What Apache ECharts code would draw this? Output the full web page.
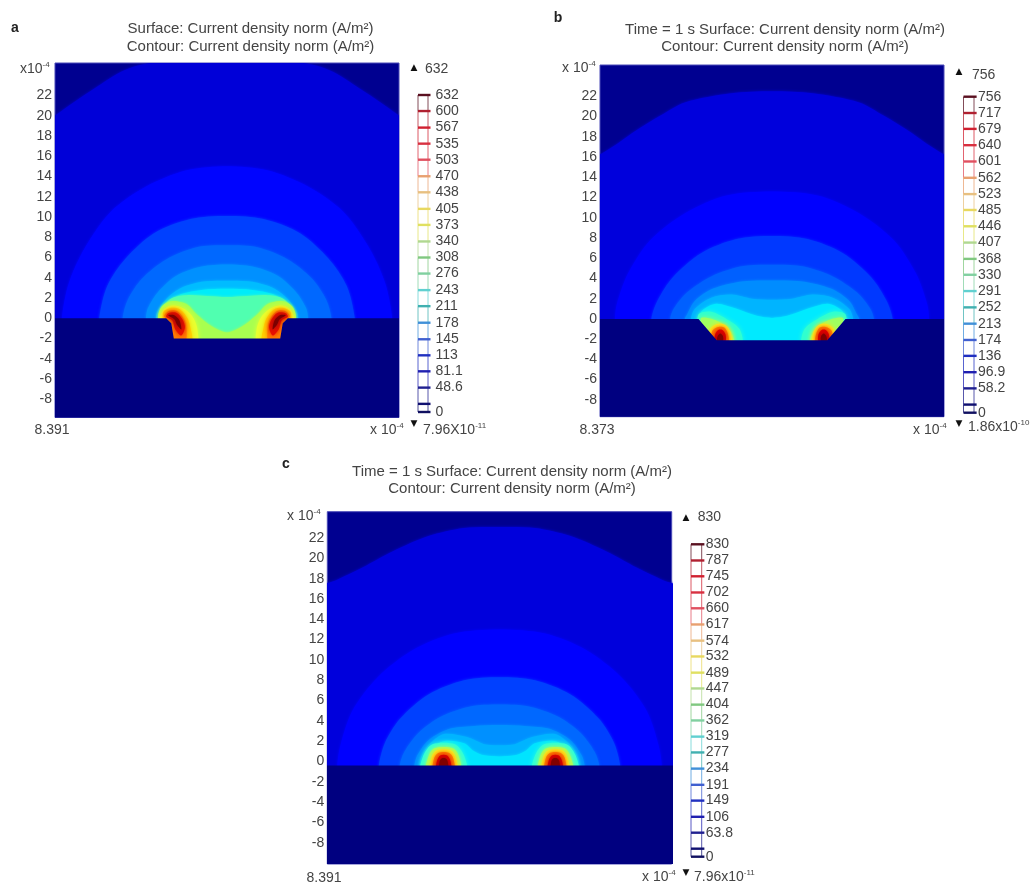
<!DOCTYPE html>
<html><head><meta charset="utf-8">
<style>html,body{margin:0;padding:0;background:#fff}#c{width:1032px;height:885px;filter:blur(0.5px)}</style>
<script src="https://cdn.jsdelivr.net/npm/echarts@6/dist/echarts.min.js"></script>
</head><body><div id="c"></div>
<script>
const yTicks = [22,20,18,16,14,12,10,8,6,4,2,0,-2,-4,-6,-8];

const levelsA = [632,600,567,535,503,470,438,405,373,340,308,276,243,211,178,145,113,81.1,48.6,16.2,0];
const levelsB = [756,717,679,640,601,562,523,485,446,407,368,330,291,252,213,174,136,96.9,58.2,19.4,0];
const levelsC = [830,787,745,702,660,617,574,532,489,447,404,362,319,277,234,191,149,106,63.8,21.3,0];
const levelColors = ['#5a1020','#b02030','#d02030','#d83040','#e05060','#e8a070','#e8c080','#e8d860','#e0e060','#b0d890','#80c880','#80d0a0','#60d0d0','#40b0b0','#4090d8','#4060d0','#2030c0','#2020b0','#202090','#101070','#101060'];

// half contour outlines (right side, top centre downward), x and y in 10^-4 axis units
const arcsA = [
  [[0,25.9],[4,25.7],[8.6,25],[10.5,24.3],[13.5,22.4],[16,20.7],[17.5,19.6],[19,18.5]],
  [[0,15],[4,14.6],[8,13],[11.5,10.5],[14,7],[15.6,3.5],[16.3,0]],
  [[0,10.1],[3.6,9.8],[7.2,8.4],[10,5.9],[11.8,3.2],[12.6,0]],
  [[0,7.2],[3,7],[6,5.8],[8.4,3.9],[9.8,1.8],[10.3,0]],
  [[0,5.3],[2.5,5.1],[5,4.2],[6.8,2.6],[7.8,1],[8,0]],
  [[0,3.7],[2.5,3.6],[4.5,3],[6,1.9],[6.9,0.6],[7,0]],
  [[0,2.9],[2.5,2.8],[4.5,2.4],[5.8,1.6],[6.5,0.5],[6.6,0]],
  [[0,2.1],[2,2.2],[3.8,2.3],[5.4,2],[6.4,1],[6.5,0]],
  [[0,-1.4],[1.5,-0.8],[3,0.4],[4,1.4],[5.4,1.7],[6.4,1.2],[6.8,0.2],[6.6,-2.5]]
];
const arcColorsA = ['#0000d8','#0004ff','#0040ff','#0068ff','#0090ff','#00bcff','#00ecfa','#50ffb0','#a8ff50'];
const lobesA = [
  [[3,-2.5],[2.9,-1.2],[3.3,0],[4.2,0.9],[5.3,1.25],[6.2,0.9],[6.6,0],[6.2,-2.5]],
  [[3.5,-2.3],[3.6,-1],[3.9,0],[4.7,0.9],[5.6,1],[6.3,0.5],[6,-2.3]],
  [[4.1,-2.2],[4,-1.2],[4.2,-0.2],[4.9,0.7],[5.7,0.75],[6.2,0.2],[5.6,-0.4],[5.4,-2.2]],
  [[4.5,-1.7],[4.15,-0.9],[4.4,-0.1],[5,0.55],[5.8,0.5],[6,0.15],[5.4,-0.2],[5.1,-1.1]],
  [[4.5,-1.1],[4.7,-0.2],[5.2,0.3],[5.8,0.3],[5.2,-0.1],[4.9,-0.7]]
];
const lobeColorsA = ['#e8ff30','#ffd000','#ff8000','#e81000','#7c0000'];
const floorA = [[19,0],[6,0],[5.5,-0.5],[5.25,-2]];

const arcsB = [
  [[0,22.5],[4,22.3],[8.6,21.4],[11,20.1],[13.3,18.7],[15.3,17.3],[17.2,16.1],[19,15]],
  [[0,12.6],[4.5,12.2],[8.5,10.5],[12,7.8],[14.2,4.5],[15.3,1.5],[15.5,0]],
  [[0,8.2],[3.5,7.9],[7,6.5],[9.8,4.1],[11.3,1.8],[11.9,0]],
  [[0,5.35],[3,5.2],[6,4.2],[8.4,2.6],[9.7,1],[10.05,0]],
  [[0,3.8],[3,3.7],[5.8,3],[7.6,1.8],[8.4,0.4],[8.6,0]],
  [[0,1.9],[2,2],[4,2.4],[6,2.1],[7.6,1],[8,0]],
  [[0,0.1],[1.5,0.3],[3.5,1],[5.5,1.5],[6.8,0.9],[7.3,0]]
];
const arcColorsB = ['#0000dc','#0000ff','#0038ff','#0060ff','#008cff','#00b4ff','#00eaff'];
const lobesB = [
  [[3,-2.5],[3.2,-1],[4.5,0],[6,0.7],[7.2,0.5],[7.3,-0.5],[6,-2.5]],
  [[3.8,-2.5],[4.1,-1.2],[5.4,-0.2],[7,0.1],[6.8,-0.8],[5.8,-2.5]],
  [[4.05,-2.5],[4.1,-1.3],[4.6,-0.6],[5.4,-0.5],[6.1,-1],[6.2,-2.5]],
  [[4.3,-2.4],[4.35,-1.5],[4.7,-0.85],[5.3,-0.8],[5.9,-1.2],[5.9,-2.4]],
  [[4.6,-2.2],[4.6,-1.5],[4.9,-1.1],[5.3,-1.1],[5.6,-1.5],[5.6,-2.2]],
  [[4.85,-2.2],[4.85,-1.7],[5.1,-1.45],[5.35,-1.7],[5.4,-2.2]]
];
const lobeColorsB = ['#30ffd0','#a0ff60','#f8f020','#ff8000','#e00000','#800000'];
const floorB = [[19,0],[7.25,0],[5.45,-2.1]];

const arcsC = [
  [[0,23.1],[3.5,23],[7,22.2],[10.5,20.7],[13.5,19.1],[16,17.9],[19,16.4]],
  [[0,13],[4.5,12.6],[8.5,11],[12,8.3],[14.5,5],[15.7,1.5],[16,-0.5]],
  [[0,8.3],[3.5,8],[7,6.6],[9.8,4.2],[11.3,1.8],[11.9,-0.5]],
  [[0,5.6],[3,5.4],[5.8,4.4],[8,2.8],[9.4,0.9],[9.85,-0.5]],
  [[0,3.6],[2.5,3.5],[5,3.2],[7,2.1],[8.1,0.6],[8.4,-0.5]],
  [[0,1.6],[1.5,1.7],[3.2,2.4],[5.5,2.7],[7,1.6],[7.7,0.5],[7.9,-0.5]],
  [[0,0.5],[1.5,0.6],[2.5,1],[3.5,1.8],[5.5,2],[6.7,1.2],[7.2,-0.5]]
];
const arcColorsC = ['#0000dc','#0000ff','#0040ff','#0068ff','#0090ff','#00b4ff','#00e4ff'];
const lobesC = [
  [[3.3,-1],[3.5,0.6],[4.4,1.7],[6.6,1.7],[7.5,0.6],[7.7,-1]],
  [[3.9,-1],[4,0.5],[4.6,1.3],[6.4,1.3],[7,0.5],[7.2,-1]],
  [[4.2,-1],[4.3,0.4],[4.8,1.1],[6.2,1.1],[6.7,0.4],[6.8,-1]],
  [[4.5,-1],[4.55,0.3],[5,0.85],[6,0.85],[6.45,0.3],[6.5,-1]],
  [[4.8,-1],[4.85,0.1],[5.2,0.6],[5.8,0.6],[6.15,0.1],[6.2,-1]],
  [[5.1,-1],[5.1,0],[5.3,0.3],[5.7,0.3],[5.9,0],[5.9,-1]]
];
const lobeColorsC = ['#30ffd8','#a0ff60','#f8f020','#ff8000','#e00000','#800000'];
const floorC = [[19,-0.4]];

const panels = [
  {letter:'a', title:['Surface: Current density norm (A/m²)','Contour: Current density norm (A/m²)'], arcs:arcsA, arcColors:arcColorsA, lobes:lobesA, lobeColors:lobeColorsA, floor:floorA, levels:levelsA,
   grid:{left:55,top:63,width:344,height:354.5}, y:[-9.8,25.2], bar:{left:418,width:10,top:95,height:317}, lm:7.5,
   texts:{letter:[15,28], t:[250.5,29,46.7], exp:[20,69,'x10{s|-4}'], max:[414,68,425,69,'632'], minX:[52,430], expB:[370,430], tri:[414,424], min:[423,430,'7.96X10{s|-11}']}, xMin:'8.391'},
  {letter:'b', title:['Time = 1 s Surface: Current density norm (A/m²)','Contour: Current density norm (A/m²)'], arcs:arcsB, arcColors:arcColorsB, lobes:lobesB, lobeColors:lobeColorsB, floor:floorB, levels:levelsB,
   grid:{left:600,top:65,width:344,height:351.7}, y:[-9.67,25.1], bar:{left:963.5,width:10.5,top:96.7,height:316}, lm:4,
   texts:{letter:[558,18], t:[785,30,47], exp:[562,68,'x 10{s|-4}'], max:[959,72,972,75,'756'], minX:[597,430], expB:[913,430], tri:[959,424], min:[968,427,'1.86x10{s|-10}']}, xMin:'8.373'},
  {letter:'c', title:['Time = 1 s Surface: Current density norm (A/m²)','Contour: Current density norm (A/m²)'], arcs:arcsC, arcColors:arcColorsC, lobes:lobesC, lobeColors:lobeColorsC, floor:floorC, levels:levelsC,
   grid:{left:327.3,top:511.7,width:344.4,height:352.3}, y:[-10.1,24.6], bar:{left:691,width:10.7,top:544.3,height:312.4}, lm:4,
   texts:{letter:[286,464], t:[512,472.3,489], exp:[287,516,'x 10{s|-4}'], max:[686,517.7,697.7,517,'830'], minX:[324,878], expB:[642,877], tri:[686,873], min:[694,877,'7.96x10{s|-11}']}, xMin:'8.391'}
];

const FONT = '"Liberation Sans", Arial, sans-serif';
const TXT = '#444';
const SIZE = 14, TITLE = 15;
const DROP = -3, XR = 16.97;
const SUP = {s:{fontSize:8,fontFamily:FONT,fill:TXT,padding:[0,0,8,0]}};

function mirror(half){ // closes a half outline across x=0
  const last = half[half.length-1];
  const right = last[1] > DROP ? half.concat([[last[0],DROP]]) : half.slice();
  const left = right.slice(1).reverse().map(p=>[-p[0],p[1]]);
  return right.concat([[0,DROP]]).concat(left);
}
function floorPoly(half){
  const left = half.slice().reverse().map(p=>[-p[0],p[1]]);
  return half.concat(left).concat([[-19,-12],[19,-12]]);
}

const grid=[],xAxis=[],yAxis=[],series=[],graphic=[];
function text(t,x,y,opt){ graphic.push({type:'text',silent:true,style:Object.assign({text:t,x:x,y:y,fill:TXT,font:SIZE+'px '+FONT,textAlign:'left',textVerticalAlign:'middle'},opt||{})}); }

panels.forEach((p)=>{
  const g = grid.length;
  grid.push(Object.assign({show:true,backgroundColor:'#000090',borderColor:'#4a4ab8',borderWidth:1,containLabel:false},p.grid));
  xAxis.push({type:'value',gridIndex:g,min:-XR,max:XR,splitLine:{show:false},axisLine:{show:false},axisTick:{show:false},axisLabel:{show:false}});
  yAxis.push({type:'value',gridIndex:g,min:p.y[0],max:p.y[1],splitLine:{show:false},axisLine:{show:false},axisTick:{show:false},
    axisLabel:{customValues:yTicks,color:TXT,fontFamily:FONT,fontSize:SIZE,margin:3}});

  const shapes=[];
  p.arcs.forEach((a,i)=>shapes.push({pts:mirror(a),color:p.arcColors[i],blur:3,smooth:0.3}));
  p.lobes.forEach((l,i)=>{
    const blur = 5;
    shapes.push({pts:l,color:p.lobeColors[i],blur:blur,smooth:0.3});
    shapes.push({pts:l.map(q=>[-q[0],q[1]]),color:p.lobeColors[i],blur:blur,smooth:0.3});
  });
  shapes.push({pts:floorPoly(p.floor),color:'#000080',blur:0,smooth:0});
  series.push({type:'custom',coordinateSystem:'cartesian2d',xAxisIndex:g,yAxisIndex:g,clip:true,silent:true,
    data:shapes.map((s,i)=>[s.pts[0][0],s.pts[0][1],i]),encode:{x:0,y:1},
    renderItem:(params,api)=>{
      const s=shapes[api.value(2)];
      return {type:'polygon',shape:{points:s.pts.map(q=>api.coord(q)),smooth:s.smooth},
        style:{fill:s.color,shadowBlur:s.blur,shadowColor:s.color}};
    }});

  const b = grid.length;
  grid.push(Object.assign({show:false},p.bar));
  const lv=p.levels;
  xAxis.push({type:'value',gridIndex:b,min:0,max:1,show:false});
  yAxis.push({type:'value',gridIndex:b,position:'right',min:0,max:lv[0],splitLine:{show:false},axisLine:{show:false},axisTick:{show:false},
    axisLabel:{customValues:lv.filter((v,i)=>i!==lv.length-2),color:TXT,fontFamily:FONT,fontSize:SIZE,margin:p.lm}});
  series.push({type:'custom',coordinateSystem:'cartesian2d',xAxisIndex:b,yAxisIndex:b,clip:false,silent:true,
    data:lv.map((v,i)=>[0,v,i]),encode:{x:0,y:1},
    renderItem:(params,api)=>{
      const i=api.value(2), c=levelColors[i], v=api.value(1);
      const kids=[{type:'line',shape:{x1:api.coord([0,v])[0],y1:api.coord([0,v])[1],x2:api.coord([1.25,v])[0],y2:api.coord([1.25,v])[1]},style:{stroke:c,lineWidth:2.4}}];
      if(i<lv.length-1){
        [0,1].forEach(x=>{
          const a=api.coord([x,v]), d=api.coord([x,lv[i+1]]);
          kids.push({type:'line',shape:{x1:a[0],y1:a[1],x2:d[0],y2:d[1]},style:{stroke:c,lineWidth:1,opacity:0.75}});
        });
      }
      return {type:'group',children:kids};
    }});

  const T=p.texts;
  text(p.letter,T.letter[0],T.letter[1],{font:'bold 14px '+FONT,textAlign:'center',fill:'#222'});
  text(p.title[0],T.t[0],T.t[1],{textAlign:'center',font:TITLE+'px '+FONT});
  text(p.title[1],T.t[0],T.t[2],{textAlign:'center',font:TITLE+'px '+FONT});
  text(T.exp[2],T.exp[0],T.exp[1],{rich:SUP});
  text('▲',T.max[0],T.max[1],{textAlign:'center',font:'9px "DejaVu Sans"',fill:'#111'});
  text(T.max[4],T.max[2],T.max[3]);
  text(p.xMin,T.minX[0],T.minX[1],{textAlign:'center'});
  text('x 10{s|-4}',T.expB[0],T.expB[1],{rich:SUP});
  text('▼',T.tri[0],T.tri[1],{textAlign:'center',font:'9px "DejaVu Sans"',fill:'#111'});
  text(T.min[2],T.min[0],T.min[1],{rich:SUP});
});

const chart=echarts.init(document.getElementById('c'),null,{renderer:'canvas',width:1032,height:885});
chart.setOption({animation:false,backgroundColor:'#fff',grid,xAxis,yAxis,series,graphic});
</script></body></html>
